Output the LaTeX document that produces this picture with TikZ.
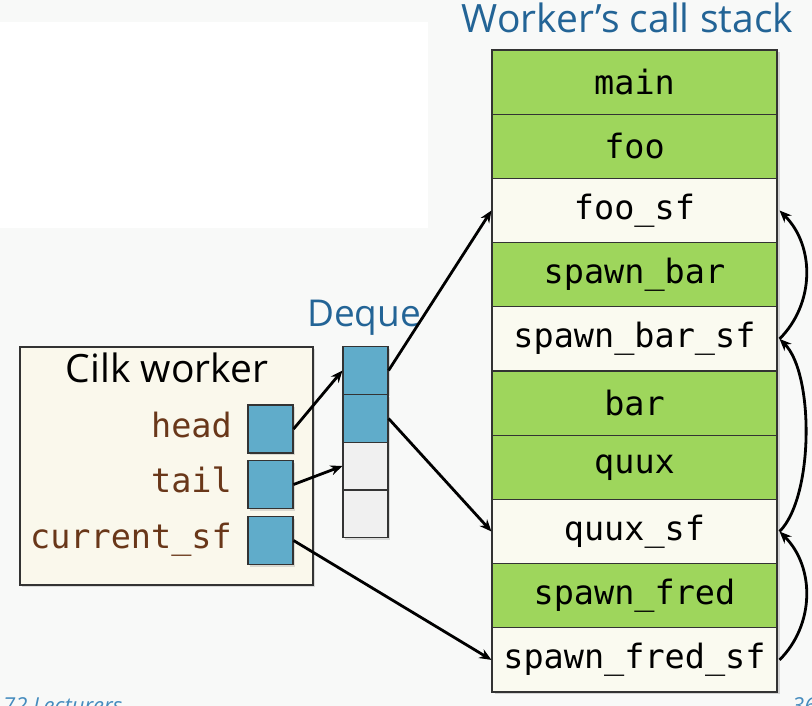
\documentclass[tikz,border=0pt]{standalone}
\usepackage{fontspec}
\setmainfont{Open Sans}
\setmonofont{DejaVu Sans Mono}
\usetikzlibrary{arrows.meta, shadows}
\definecolor{slidebg}{RGB}{248,249,248}
\definecolor{titleblue}{RGB}{35,100,150}
\definecolor{footblue}{RGB}{70,140,190}
\definecolor{framegreen}{RGB}{158,214,92}
\definecolor{framecream}{RGB}{250,250,240}
\definecolor{workerbg}{RGB}{250,248,236}
\definecolor{ptrblue}{RGB}{96,172,202}
\definecolor{emptycell}{RGB}{240,240,240}
\definecolor{varbrown}{RGB}{105,55,25}
\newcommand{\codefont}{\ttfamily\fontsize{33.5}{36}\selectfont}
\newcommand{\headfont}{\fontsize{39}{42}\selectfont}
\tikzstyle{stkframe}=[rectangle, draw=black!80, line width=1.1pt,
  minimum width=285pt, minimum height=64.2pt, inner sep=0pt,
  font=\codefont, fill=framegreen]
\tikzstyle{sfframe}=[stkframe, fill=framecream]
\tikzstyle{ptrbox}=[rectangle, draw=black!80, line width=1.1pt, fill=ptrblue,
  minimum width=45pt, minimum height=48pt, inner sep=0pt,
  drop shadow={shadow xshift=2pt, shadow yshift=-2pt, opacity=0.25}]
\tikzstyle{dqcell}=[ptrbox, minimum height=47.5pt, drop shadow={opacity=0}]
\tikzstyle{varlbl}=[font=\codefont, text=varbrown, anchor=base east, inner sep=0pt]
\tikzstyle{garr}=[-{Stealth[length=12pt, width=10pt]}, line width=2.8pt, color=black]

\begin{document}
\begin{tikzpicture}[x=1pt, y=-1pt]
    % slide background
    \fill[slidebg] (0,0) rectangle (812,706);
    \useasboundingbox (0,0) rectangle (812,706);
    \fill[white] (0,22) rectangle (428,228);

    % call stack
    \fill[black, opacity=0.15] (494.5,52) rectangle (779.5,694);
    \node[font=\headfont, text=titleblue, anchor=base] (stktitle) at (627.5,33) {Worker’s call stack};
    \node[stkframe] (main) at (634.5,82.1) {main};
    \node[stkframe] (foo) at (634.5,146.3) {foo};
    \node[sfframe] (foosf) at (634.5,210.5) {foo\_sf};
    \node[stkframe] (spbar) at (634.5,274.7) {spawn\_bar};
    \node[sfframe] (spbarsf) at (634.5,338.9) {spawn\_bar\_sf};
    \node[stkframe] (bar) at (634.5,403.1) {bar};
    \node[stkframe] (quux) at (634.5,467.3) {quux};
    \node[sfframe] (quuxsf) at (634.5,531.5) {quux\_sf};
    \node[stkframe] (spfred) at (634.5,595.7) {spawn\_fred};
    \node[sfframe] (spfredsf) at (634.5,659.9) {spawn\_fred\_sf};

    % worker
    \node[rectangle, draw=black!80, line width=1.1pt, fill=workerbg,
      minimum width=293pt, minimum height=238pt,
      drop shadow={shadow xshift=2pt, shadow yshift=-2pt, opacity=0.25}]
      (worker) at (166.5,466) {};
    \node[font=\headfont, anchor=base] (wtitle) at (167,382) {Cilk worker};
    \node[ptrbox] (head) at (270.5,429) {};
    \node[ptrbox] (tail) at (270.5,484.5) {};
    \node[ptrbox] (cursf) at (270.5,540.5) {};
    \node[varlbl] (headlbl) at (232,437) {head};
    \node[varlbl] (taillbl) at (232,492) {tail};
    \node[varlbl] (cursflbl) at (232,548) {current\_sf};

    % deque
    \node[font=\fontsize{37}{40}\selectfont, text=titleblue, anchor=base] (dqtitle) at (364,326) {Deque};
    \node[dqcell] (dq1) at (365.5,370.5) {};
    \node[dqcell] (dq2) at (365.5,418.5) {};
    \node[dqcell, fill=emptycell] (dq3) at (365.5,466) {};
    \node[dqcell, fill=emptycell] (dq4) at (365.5,514) {};

    \draw[garr] (head.east)--(dq1.west);
    \draw[garr] (tail.east)--(dq3.west);
    \draw[garr] (dq1.east)--(foosf.west);
    \draw[garr] (dq2.east)--(quuxsf.west);
    \draw[garr] (cursf.east)--(spfredsf.west);
    \draw[garr] ([xshift=2pt]spbarsf.east) to[out=45, in=-45] ([xshift=2pt]foosf.east);
    \draw[garr] ([xshift=2pt]quuxsf.east) to[out=45, in=-45, looseness=0.65] ([xshift=2pt]spbarsf.east);
    \draw[garr] ([xshift=2pt]spfredsf.east) to[out=45, in=-45] ([xshift=2pt]quuxsf.east);

    % footer
    \node[font=\fontsize{22}{24}\selectfont\itshape, text=footblue, anchor=base west, inner sep=0pt]
      (footl) at (3,713) {72 Lecturers};
    \node[font=\fontsize{22}{24}\selectfont\itshape, text=footblue, anchor=base west, inner sep=0pt]
      (footr) at (792,713) {36};
  \end{tikzpicture}
\end{document}
